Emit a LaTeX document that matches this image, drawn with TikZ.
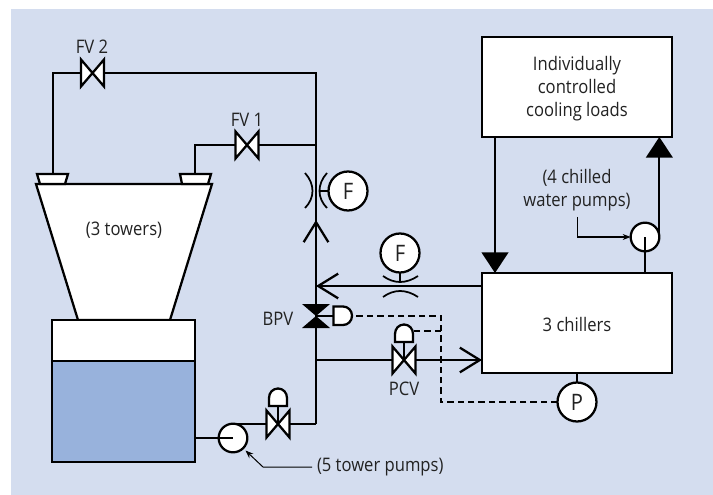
\documentclass[tikz,border=0pt]{standalone}
\usepackage{fontspec}
\setmainfont[FakeStretch=0.89]{Open Sans}
\usetikzlibrary{arrows.meta,calc}
\definecolor{panel}{HTML}{D4DDEF}
\definecolor{water}{HTML}{98B2DC}
\definecolor{ink}{HTML}{222222}
\tikzset{
  x=0.75pt,y=-0.75pt,
  pipe/.style={line width=1.7pt,line cap=butt,line join=miter,black},
  part/.style={pipe,fill=white},
  boxnode/.style={part,draw,rectangle,inner sep=0pt,outer sep=0pt},
  instr/.style={part,draw,circle,inner sep=0pt,outer sep=0pt,minimum size=29.25pt,text=ink,font=\fontsize{17}{18}\selectfont},
  pumpnode/.style={part,draw,circle,inner sep=0pt,outer sep=0pt,minimum size=21.5pt},
  lbl/.style={inner sep=0pt,outer sep=0pt,align=center,text=ink,font=\fontsize{14}{17.2}\selectfont},
  thin leader/.style={line width=0.75pt,black,-{Stealth[length=6pt,width=4.5pt]}},
  signal/.style={pipe,dash pattern=on 4.8pt off 3pt},
  solidtip/.style={pipe,-{Triangle[length=15.5pt,width=20pt]}},
  opentip/.style={pipe,-{Straight Barb[length=15pt,width=18.5pt]}},
}
% horizontal-flow valve (bowtie) at named coordinate
\newcommand{\hvalve}[1]{\draw[part] ($(#1)+(-11.5,-13.5)$) -- ($(#1)+(11.5,13.5)$) -- ($(#1)+(11.5,-13.5)$) -- ($(#1)+(-11.5,13.5)$) -- cycle;}
% dome-up actuator: name of the base-centre coordinate
\newcommand{\domeup}[1]{\draw[part] ($(#1)+(-9,0)$) -- ($(#1)+(9,0)$) -- ($(#1)+(9,-8)$) .. controls ($(#1)+(9,-13.5)$) and ($(#1)+(5,-17.5)$) .. ($(#1)+(0,-17.5)$) .. controls ($(#1)+(-5,-17.5)$) and ($(#1)+(-9,-13.5)$) .. ($(#1)+(-9,-8)$) -- cycle;}
\begin{document}
\begin{tikzpicture}
\useasboundingbox (0,0) rectangle (713,495);
\fill[white] (0,0) rectangle (713,495);
\fill[panel] (11,9) rectangle (713,495);

% junctions and valve positions
\coordinate (topleft) at (53,73);
\coordinate (topright) at (316,73);
\coordinate (fv2) at (92.5,73);
\coordinate (fv1) at (247,145);
\coordinate (fv1left) at (195,145);
\coordinate (fv1right) at (316,145);
\coordinate (nozzleL) at (53,174);
\coordinate (nozzleR) at (195,174);
\coordinate (orifV) at (316,191);
\coordinate (upTip) at (316,220);
\coordinate (flowJ) at (316,286);
\coordinate (bpv) at (316,316);
\coordinate (branchJ) at (316,360);
\coordinate (corner) at (316,424);
\coordinate (pcv) at (404,360);
\coordinate (pumpV) at (278,424);
\coordinate (orifH) at (400,286);
\coordinate (dashTop) at (441,316);
\coordinate (dashMid) at (441,331);
\coordinate (dashBot) at (441,402);

% boxes
\node[boxnode,minimum width=142.5pt,minimum height=75pt] (loads) at (577,87) {};
\node[lbl] (loadstext) at (577,88.5) {Individually\\controlled\\cooling loads};
\node[boxnode,minimum width=142.5pt,minimum height=75pt] (chillers) at (577,323) {};
\node[lbl] (chillerstext) at (577,324) {3 chillers};

% tower
\draw[part] (36,184) -- (212,184) -- (170,320) -- (78,320) -- cycle;
\node[lbl] (towers) at (124,230) {(3 towers)};
\draw[part] (37,174) -- (68,174) -- (65,184) -- (40,184) -- cycle;
\draw[part] (180,174) -- (211,174) -- (208,184) -- (182,184) -- cycle;

% basin
\node[boxnode,minimum width=107.25pt,minimum height=106.5pt] (basin) at (123.5,391) {};
\fill[water] (basin.south west) rectangle (basin.east |- 0,361);
\draw[pipe] (basin.south west) rectangle (basin.north east);
\draw[pipe] (basin.west |- 0,361) -- (basin.east |- 0,361);

% pipes
\draw[pipe] (nozzleL) -- (topleft) -- (topright) -- (flowJ);
\draw[pipe] (nozzleR) -- (fv1left) -- (fv1right);
\draw[opentip] (flowJ) -- (upTip);
\draw[pipe] (flowJ) -- (corner);
\draw[pipe] (corner) -- (pumpV) -- (233,424);
\draw[opentip] (chillers.west |- flowJ) -- (flowJ);
\draw[opentip] (branchJ) -- (chillers.west |- branchJ);

% vertical orifice
\draw[pipe,line width=1.3pt] (305,173) .. controls (315,184) and (315,198) .. (305,208);
\draw[pipe,line width=1.3pt] (327,173) .. controls (317,184) and (317,198) .. (327,208);
% horizontal orifice
\draw[pipe,line width=1.3pt] (383,276) .. controls (394,284) and (406,284) .. (418,276);
\draw[pipe,line width=1.3pt] (383,297) .. controls (394,289) and (406,289) .. (418,297);

% instruments
\node[instr] (Fv) at (348,191) {F};
\node[instr] (Fh) at (400,253) {F};
\node[instr] (Pi) at (577,402) {P};
\draw[pipe] (Fv.west) -- (319,191);
\draw[pipe] (Fh.south) -- (400,282);
\draw[pipe] (chillers.south -| Pi) -- (Pi.north);

% valves
\hvalve{fv2}
\hvalve{fv1}
\node[lbl] (fv2text) at (92,47) {FV 2};
\node[lbl] (fv1text) at (247,120) {FV 1};

% BPV
\coordinate (bpvact) at (343,316);
\draw[pipe] (bpv) -- (bpvact);
\fill[black] ($(bpv)+(-14,-12)$) -- ($(bpv)+(14,-12)$) -- ($(bpv)+(-14,12)$) -- ($(bpv)+(14,12)$) -- cycle;
\draw[part] (333.5,306.5) -- (333.5,325) -- (343,325) .. controls (348,325) and (352,321) .. (352,315.7) .. controls (352,310.5) and (348,306.5) .. (343,306.5) -- cycle;
\node[lbl] (bpvtext) at (278,319) {BPV};

% PCV
\coordinate (pcvact) at (404,342);
\draw[pipe] (pcv) -- (pcvact);
\hvalve{pcv}
\domeup{pcvact}
\node[lbl] (pcvtext) at (404,389) {PCV};

% pump valve
\coordinate (pumpact) at (278,406);
\draw[pipe] (pumpV) -- (pumpact);
\hvalve{pumpV}
\domeup{pumpact}

% signal lines
\draw[signal] (Pi.west) -- (dashBot) -- (dashTop) -- (352,316);
\draw[signal] (dashMid) -- (413,331);

% tower pump
\node[pumpnode] (tpump) at (233,438) {};
\draw[pipe] (basin.east |- tpump) -- (tpump.center);
\node[lbl,anchor=west] (tlabel) at (317,467) {(5 tower pumps)};
\draw[thin leader] ($(tlabel.west)+(-5,0)$) -- (263,467) -- (245.5,450.5);

% chilled water pump
\node[pumpnode] (cpump) at (645,237) {};
\draw[pipe] (chillers.north -| cpump) -- (cpump.center);
\draw[solidtip] (cpump.east) -- (loads.south -| cpump.east);
\draw[solidtip] ($(loads.south west)+(13,0)$) -- ($(chillers.north west)+(13,0)$);
\node[lbl] (clabel) at (577,190) {(4 chilled\\water pumps)};
\draw[thin leader] (577,217) -- (577,237) -- (cpump.west);
\end{tikzpicture}
\end{document}
